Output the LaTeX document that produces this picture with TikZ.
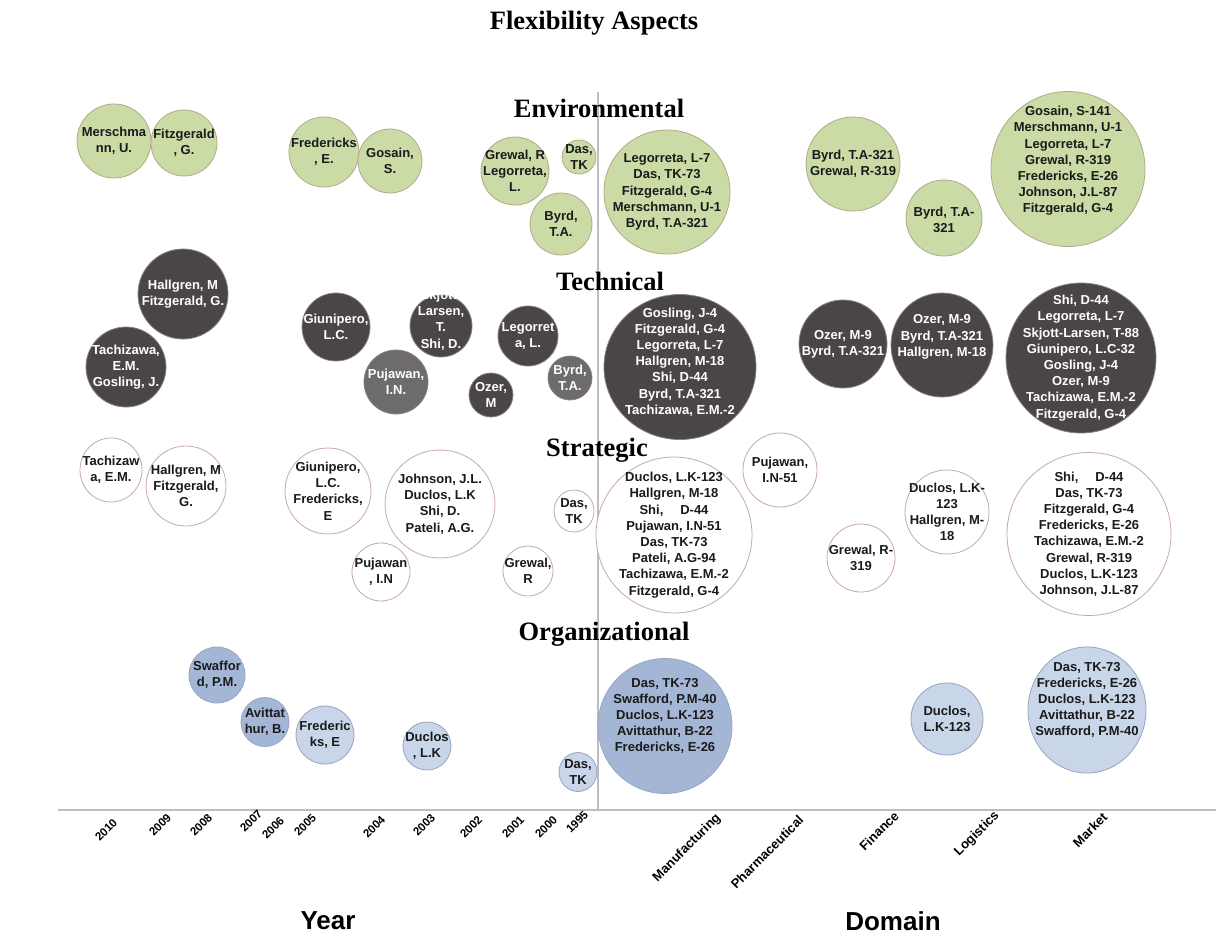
\documentclass[tikz,border=0pt]{standalone}
\usepackage{fontspec}
\setmainfont{Liberation Serif}
\newfontfamily\arialfont{Liberation Sans}
\usetikzlibrary{shapes.geometric}
\definecolor{grnfill}{HTML}{CADBA6}
\definecolor{grnedge}{HTML}{B3A98A}
\definecolor{dkfill}{HTML}{4A4646}
\definecolor{dkedge}{HTML}{8C7F7F}
\definecolor{mdfill}{HTML}{6E6B6B}
\definecolor{whedge}{HTML}{C8A8A8}
\definecolor{bldk}{HTML}{A4B6D6}
\definecolor{bllt}{HTML}{C9D5E9}
\definecolor{bledge}{HTML}{9AA3BF}
\definecolor{axisgray}{HTML}{BDBDC6}
\definecolor{txtdark}{HTML}{1A1A1A}
\tikzset{
  bubble/.style={ellipse, inner sep=0pt, line width=0.8pt},
  grn/.style={bubble, fill=grnfill, draw=grnedge},
  dk/.style={bubble, fill=dkfill, draw=dkedge},
  md/.style={bubble, fill=mdfill, draw=dkedge},
  wh/.style={bubble, fill=white, draw=whedge},
  bd/.style={bubble, fill=bldk, draw=bledge},
  bl/.style={bubble, fill=bllt, draw=bledge},
  btxt/.style={align=center, inner sep=0pt, text=#1,
    font=\arialfont\bfseries\fontsize{13}{16.2}\selectfont},
  cattitle/.style={font=\bfseries\fontsize{26.5}{30}\selectfont, inner sep=0pt},
  axtitle/.style={font=\arialfont\bfseries\fontsize{26}{30}\selectfont, inner sep=0pt},
  yeartick/.style={font=\arialfont\bfseries\fontsize{11.5}{13}\selectfont, rotate=45, inner sep=0pt},
  domtick/.style={font=\arialfont\bfseries\fontsize{13}{15}\selectfont, rotate=45, inner sep=0pt},
  axisline/.style={draw=axisgray, line width=1.2pt}
}
% \bub{name}{style}{x}{y}{w}{h}{textcolour}{dy}{text}
\newcommand\bub[9]{%
  \node[#2, minimum width=#5pt, minimum height=#6pt] (#1) at (#3,#4) {};
  \node[btxt=#7] (#1t) at ([yshift=#8pt]#1.center) {#9};}
\begin{document}
\begin{tikzpicture}[x=1pt, y=-1pt]
\useasboundingbox[fill=white] (0,0) rectangle (1216,935);
% axes
\coordinate (vtop) at (598,92);
\coordinate (vbot) at (598,810);
\coordinate (ax0) at (58,810);
\coordinate (ax1) at (1216,810);
\draw[axisline] (vtop) -- (vbot);
\draw[axisline] (ax0) -- (ax1);
% titles
\node[cattitle] (title) at (594,23) {Flexibility Aspects};
\node[cattitle] (envt) at (599,108) {Environmental};
\node[cattitle] (tect) at (610,281) {Technical};
\node[cattitle] (strt) at (597,450) {Strategic};
\node[cattitle] (orgt) at (604,634) {Organizational};
% Environmental
\bub{e1}{grn}{114}{141}{74}{74}{txtdark}{0}{Merschma\\nn, U.}
\bub{e2}{grn}{184}{143}{66}{66}{txtdark}{0}{Fitzgerald\\, G.}
\bub{e3}{grn}{324}{152}{70}{70}{txtdark}{0}{Fredericks\\, E.}
\bub{e4}{grn}{390}{161}{64}{64}{txtdark}{0}{Gosain,\\S.}
\bub{e5}{grn}{515}{171}{68}{68}{txtdark}{0}{Grewal, R\\Legorreta,\\L.}
\bub{e6}{grn}{579}{157}{34}{34}{txtdark}{0}{Das,\\TK}
\bub{e7}{grn}{561}{224}{62}{62}{txtdark}{0}{Byrd,\\T.A.}
\bub{e8}{grn}{667}{192}{126}{124}{txtdark}{0}{Legorreta, L-7\\Das, TK-73\\Fitzgerald, G-4\\Merschmann, U-1\\Byrd, T.A-321}
\bub{e9}{grn}{853}{164}{94}{94}{txtdark}{0}{Byrd, T.A-321\\Grewal, R-319}
\bub{e10}{grn}{944}{218}{76}{76}{txtdark}{-2}{Byrd, T.A-\\321}
\bub{e11}{grn}{1068}{169}{154}{155}{txtdark}{8}{Gosain, S-141\\Merschmann, U-1\\Legorreta, L-7\\Grewal, R-319\\Fredericks, E-26\\Johnson, J.L-87\\Fitzgerald, G-4}
% Technical
\bub{t1}{dk}{183}{294}{90}{90}{white}{0}{Hallgren, M\\Fitzgerald, G.}
\bub{t2}{dk}{126}{367}{80}{80}{white}{0}{Tachizawa,\\E.M.\\Gosling, J.}
\bub{t3}{dk}{336}{327}{68}{68}{white}{0}{Giunipero,\\L.C.}
\bub{t4}{dk}{441}{326}{62}{62}{white}{6}{Skjott-\\Larsen,\\T.\\Shi, D.}
\bub{t5}{md}{396}{382}{64}{64}{white}{0}{Pujawan,\\I.N.}
\bub{t6}{dk}{528}{336}{60}{60}{white}{0}{Legorret\\a, L.}
\bub{t7}{dk}{491}{395}{44}{44}{white}{0}{Ozer,\\M}
\bub{t8}{md}{570}{378}{44}{44}{white}{0}{Byrd,\\T.A.}
\bub{t9}{dk}{680}{367}{152}{145}{white}{5}{Gosling, J-4\\Fitzgerald, G-4\\Legorreta, L-7\\Hallgren, M-18\\Shi, D-44\\Byrd, T.A-321\\Tachizawa, E.M.-2}
\bub{t10}{dk}{843}{344}{88}{88}{white}{0}{Ozer, M-9\\Byrd, T.A-321}
\bub{t11}{dk}{942}{345}{102}{104}{white}{8}{Ozer, M-9\\Byrd, T.A-321\\Hallgren, M-18}
\bub{t12}{dk}{1081}{358}{150}{150}{white}{0}{Shi, D-44\\Legorreta, L-7\\Skjott-Larsen, T-88\\Giunipero, L.C-32\\Gosling, J-4\\Ozer, M-9\\Tachizawa, E.M.-2\\Fitzgerald, G-4}
% Strategic
\bub{s1}{wh}{111}{470}{62}{64}{txtdark}{0}{Tachizaw\\a, E.M.}
\bub{s2}{wh}{186}{486}{80}{80}{txtdark}{0}{Hallgren, M\\Fitzgerald,\\G.}
\bub{s3}{wh}{328}{491}{86}{86}{txtdark}{0}{Giunipero,\\L.C.\\Fredericks,\\E}
\bub{s4}{wh}{440}{504}{110}{108}{txtdark}{0}{Johnson, J.L.\\Duclos, L.K\\Shi, D.\\Pateli, A.G.}
\bub{s5}{wh}{381}{572}{58}{58}{txtdark}{0}{Pujawan\\, I.N}
\bub{s6}{wh}{528}{571}{50}{50}{txtdark}{0}{Grewal,\\R}
\bub{s7}{wh}{574}{511}{40}{42}{txtdark}{0}{Das,\\TK}
\bub{s8}{wh}{674}{535}{156}{156}{txtdark}{0}{Duclos, L.K-123\\Hallgren, M-18\\Shi,\hspace{1.3em}D-44\\Pujawan, I.N-51\\Das, TK-73\\Pateli, A.G-94\\Tachizawa, E.M.-2\\Fitzgerald, G-4}
\bub{s9}{wh}{780}{470}{74}{74}{txtdark}{0}{Pujawan,\\I.N-51}
\bub{s10}{wh}{861}{558}{68}{68}{txtdark}{0}{Grewal, R-\\319}
\bub{s11}{wh}{947}{512}{84}{84}{txtdark}{0}{Duclos, L.K-\\123\\Hallgren, M-\\18}
\bub{s12}{wh}{1089}{534}{164}{163}{txtdark}{0}{Shi,\hspace{1.3em}D-44\\Das, TK-73\\Fitzgerald, G-4\\Fredericks, E-26\\Tachizawa, E.M.-2\\Grewal, R-319\\Duclos, L.K-123\\Johnson, J.L-87}
% Organizational
\bub{o1}{bd}{217}{675}{56}{56}{txtdark}{0}{Swaffor\\d, P.M.}
\bub{o2}{bd}{265}{722}{48}{49}{txtdark}{0}{Avittat\\hur, B.}
\bub{o3}{bl}{325}{735}{58}{58}{txtdark}{0}{Frederic\\ks, E}
\bub{o4}{bl}{427}{746}{48}{48}{txtdark}{0}{Duclos\\, L.K}
\bub{o5}{bl}{578}{772}{38}{39}{txtdark}{0}{Das,\\TK}
\bub{o6}{bd}{665}{726}{134}{135}{txtdark}{10}{Das, TK-73\\Swafford, P.M-40\\Duclos, L.K-123\\Avittathur, B-22\\Fredericks, E-26}
\bub{o7}{bl}{947}{719}{72}{72}{txtdark}{0}{Duclos,\\L.K-123}
\bub{o8}{bl}{1087}{710}{118}{126}{txtdark}{10}{Das, TK-73\\Fredericks, E-26\\Duclos, L.K-123\\Avittathur, B-22\\Swafford, P.M-40}
% year ticks
\node[yeartick] (y2010) at (106,830) {2010};
\node[yeartick] (y2009) at (160,825) {2009};
\node[yeartick] (y2008) at (201,825) {2008};
\node[yeartick] (y2007) at (251,821) {2007};
\node[yeartick] (y2006) at (273,828) {2006};
\node[yeartick] (y2005) at (305,825) {2005};
\node[yeartick] (y2004) at (374,827) {2004};
\node[yeartick] (y2003) at (424,825) {2003};
\node[yeartick] (y2002) at (471,827) {2002};
\node[yeartick] (y2001) at (513,827) {2001};
\node[yeartick] (y2000) at (546,827) {2000};
\node[yeartick] (y1995) at (577,822) {1995};
% domain ticks
\node[domtick] (dman) at (687,848) {Manufacturing};
\node[domtick] (dpha) at (767,852) {Pharmaceutical};
\node[domtick] (dfin) at (879,831) {Finance};
\node[domtick] (dlog) at (977,834) {Logistics};
\node[domtick] (dmar) at (1090,830) {Market};
% axis titles
\node[axtitle] (yeartitle) at (328,921) {Year};
\node[axtitle] (domtitle) at (893,921) {Domain};
\end{tikzpicture}
\end{document}
